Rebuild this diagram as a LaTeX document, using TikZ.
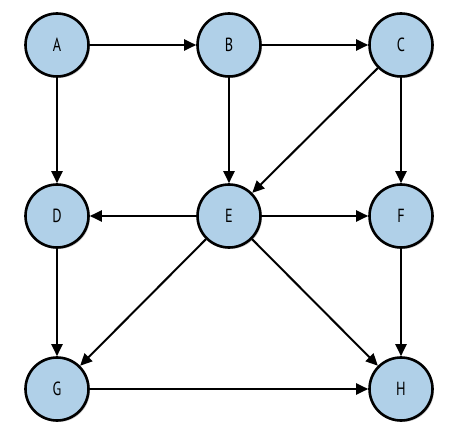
\documentclass[tikz,border=0pt]{standalone}
\usepackage{fontspec}
\setmainfont{PT Sans}
\usetikzlibrary{shadows,arrows.meta}
\definecolor{nodeblue}{HTML}{B0D0E8}
\tikzset{
  vert/.style={circle, draw=black, line width=2.6pt, fill=nodeblue, minimum size=63pt, inner sep=0pt,
    font=\fontsize{19}{19}\selectfont, drop shadow={shadow xshift=1.5pt, shadow yshift=-1.5pt, opacity=0.35, fill=black!60}},
  edge/.style={line width=2pt, -{Triangle[length=12pt,width=11pt]}}
}
\begin{document}
\begin{tikzpicture}[x=1pt,y=-1pt]
\useasboundingbox (0,0) rectangle (464,441);
\node[vert] (A) at (57,45) {\scalebox{0.75}[1]{A}};
\node[vert] (B) at (229,45) {\scalebox{0.75}[1]{B}};
\node[vert] (C) at (401,45) {\scalebox{0.75}[1]{C}};
\node[vert] (D) at (57,216) {\scalebox{0.75}[1]{D}};
\node[vert] (E) at (229,216) {\scalebox{0.75}[1]{E}};
\node[vert] (F) at (401,216) {\scalebox{0.75}[1]{F}};
\node[vert] (G) at (57,389) {\scalebox{0.75}[1]{G}};
\node[vert] (H) at (401,389) {\scalebox{0.75}[1]{H}};
\draw[edge] (A) -- (B);
\draw[edge] (B) -- (C);
\draw[edge] (A) -- (D);
\draw[edge] (B) -- (E);
\draw[edge] (C) -- (E);
\draw[edge] (C) -- (F);
\draw[edge] (E) -- (D);
\draw[edge] (E) -- (F);
\draw[edge] (E) -- (G);
\draw[edge] (E) -- (H);
\draw[edge] (D) -- (G);
\draw[edge] (F) -- (H);
\draw[edge] (G) -- (H);
\end{tikzpicture}
\end{document}
